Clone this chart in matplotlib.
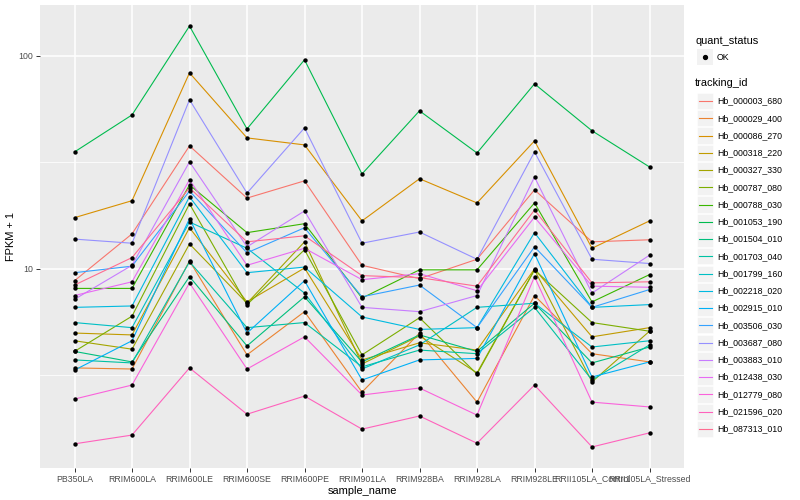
import numpy as np
import matplotlib
matplotlib.use("Agg")
import matplotlib.pyplot as plt
from matplotlib.patches import Rectangle
from matplotlib.ticker import FixedLocator, NullFormatter

plt.rcParams["font.family"] = ["Liberation Sans", "DejaVu Sans"]

# samples along the x axis
samples = ["PB350LA", "RRIM600LA", "RRIM600LE", "RRIM600SE", "RRIM600PE",
           "RRIM901LA", "RRIM928BA", "RRIM928LA", "RRIM928LE",
           "RRII105LA_Control", "RRII105LA_Stressed"]

tracking_ids = ["Hb_000003_680", "Hb_000029_400", "Hb_000086_270", "Hb_000318_220",
                "Hb_000327_330", "Hb_000787_080", "Hb_000788_030", "Hb_001053_190",
                "Hb_001504_010", "Hb_001703_040", "Hb_001799_160", "Hb_002218_020",
                "Hb_002915_010", "Hb_003506_030", "Hb_003687_080", "Hb_003883_010",
                "Hb_012438_030", "Hb_012779_080", "Hb_021596_020", "Hb_087313_010"]

# ggplot default hue palette for 20 levels
colors = ["#F8766D", "#EA8331", "#D89000", "#C09B00", "#A3A500", "#7CAE00", "#39B600",
          "#00BB4E", "#00BF7D", "#00C1A3", "#00BFC4", "#00BAE0", "#00B0F6", "#35A2FF",
          "#9590FF", "#C77CFF", "#E76BF3", "#FA62DB", "#FF62BC", "#FF6C91"]

# FPKM + 1 per sample (same order as samples)
hb_000003_680 = [8.8, 14.6, 37.8, 21.5, 25.9, 10.4, 9.0, 11.1, 23.5, 13.4, 13.7]
hb_000029_400 = [3.43, 3.39, 10.9, 3.95, 6.3, 2.64, 5.0, 2.37, 7.5, 4.0, 3.66]
hb_000086_270 = [17.4, 20.9, 83.2, 41.2, 38.2, 16.8, 26.5, 20.4, 39.9, 12.5, 16.8]
hb_000318_220 = [5.0, 4.9, 15.6, 7.0, 10.1, 3.74, 4.5, 4.16, 10.0, 4.8, 5.3]
hb_000327_330 = [4.6, 4.2, 13.1, 6.9, 13.4, 3.58, 4.85, 3.25, 9.9, 2.95, 5.1]
hb_000787_080 = [4.1, 6.0, 20.2, 6.8, 12.3, 3.95, 5.9, 3.21, 9.9, 5.6, 5.1]
hb_000788_030 = [8.1, 8.1, 24.8, 14.8, 16.3, 7.3, 9.9, 9.9, 20.4, 7.0, 9.4]
hb_001053_190 = [35.4, 52.8, 138.0, 45.4, 95.8, 27.9, 55.2, 35.0, 73.9, 44.5, 30.1]
hb_001504_010 = [4.1, 3.66, 9.2, 4.35, 7.4, 3.66, 4.9, 4.1, 6.9, 3.62, 4.3]
hb_001703_040 = [3.74, 3.62, 10.8, 5.3, 5.6, 3.47, 4.16, 4.0, 6.6, 3.01, 4.4]
hb_001799_160 = [5.6, 5.3, 16.6, 12.5, 7.7, 3.39, 4.4, 6.6, 6.9, 4.3, 4.6]
hb_002218_020 = [6.6, 6.7, 21.8, 9.6, 10.2, 5.95, 5.2, 5.3, 14.8, 6.6, 6.8]
hb_002915_010 = [3.35, 4.6, 17.2, 5.0, 8.8, 3.01, 3.74, 3.8, 11.8, 3.11, 3.66]
hb_003506_030 = [9.6, 10.3, 23.2, 11.9, 15.6, 7.4, 8.4, 5.3, 12.7, 6.6, 8.0]
hb_003687_080 = [13.8, 13.2, 62.2, 22.7, 45.9, 13.2, 14.9, 11.1, 35.4, 11.1, 10.6]
hb_003883_010 = [7.2, 10.4, 31.8, 12.7, 18.7, 6.6, 6.3, 7.5, 27.0, 7.7, 11.6]
hb_012438_030 = [7.5, 8.7, 26.2, 10.4, 12.5, 8.9, 9.5, 7.9, 17.5, 8.3, 8.2]
hb_012779_080 = [2.45, 2.85, 8.6, 3.39, 4.8, 2.56, 2.76, 2.06, 9.2, 2.37, 2.25]
hb_021596_020 = [1.51, 1.66, 3.43, 2.08, 2.53, 1.77, 2.04, 1.52, 2.85, 1.46, 1.70]
hb_087313_010 = [8.4, 11.3, 24.0, 13.4, 14.3, 9.3, 9.1, 8.3, 18.9, 8.6, 8.7]

series = [hb_000003_680, hb_000029_400, hb_000086_270, hb_000318_220, hb_000327_330,
          hb_000787_080, hb_000788_030, hb_001053_190, hb_001504_010, hb_001703_040,
          hb_001799_160, hb_002218_020, hb_002915_010, hb_003506_030, hb_003687_080,
          hb_003883_010, hb_012438_030, hb_012779_080, hb_021596_020, hb_087313_010]

W, H = 800, 500
fig = plt.figure(figsize=(8, 5), dpi=100)
ax = fig.add_axes([40 / W, 32 / H, 644 / W, 463 / H])
ax.set_facecolor("#EBEBEB")
for s in ax.spines.values():
    s.set_visible(False)

x = np.arange(len(samples))
for vals, col in zip(series, colors):
    ax.plot(x, vals, color=col, lw=0.8, zorder=2)
for vals in series:
    ax.scatter(x, vals, s=10, color="black", zorder=3, linewidths=0)

# log scale with ggplot style 5% expansion
ax.set_yscale("log")
allv = np.concatenate([np.array(v) for v in series])
lo, hi = np.log10(allv.min()), np.log10(allv.max())
pad = 0.05 * (hi - lo)
ax.set_ylim(10 ** (lo - pad), 10 ** (hi + pad))
ax.set_xlim(-0.6, len(samples) - 0.4)

ax.yaxis.set_major_locator(FixedLocator([10, 100]))
ax.set_yticklabels(["10", "100"])
ax.yaxis.set_minor_locator(FixedLocator([10 ** 0.5, 10 ** 1.5]))
ax.yaxis.set_minor_formatter(NullFormatter())
ax.set_xticks(x)
ax.set_xticklabels(samples)

ax.set_axisbelow(True)
ax.grid(which="major", color="white", lw=1.1)
ax.grid(which="minor", axis="y", color="white", lw=0.55)
ax.tick_params(which="major", length=2.7, width=0.7, color="#333333",
               labelsize=6.3, labelcolor="#4D4D4D", pad=2)
ax.tick_params(which="minor", length=0)

ax.set_xlabel("sample_name", fontsize=7.9, labelpad=2)
ax.set_ylabel("FPKM + 1", fontsize=7.9, labelpad=2)

# legend drawn in pixel coordinates on the right
lax = fig.add_axes([685 / W, 0, 115 / W, 1])
lax.set_xlim(685, 800)
lax.set_ylim(H, 0)
lax.axis("off")

lax.text(695, 41, "quant_status", fontsize=7.9, va="center")
lax.add_patch(Rectangle((697, 49), 16, 16, fc="#F2F2F2", ec="none"))
lax.plot([705], [57], "o", color="black", ms=2.8)
lax.text(717, 57, "OK", fontsize=6.3, va="center")

lax.text(695, 83, "tracking_id", fontsize=7.9, va="center")
for i, (tid, col) in enumerate(zip(tracking_ids, colors)):
    yc = 101 + 17.26 * i
    lax.add_patch(Rectangle((697, yc - 8.1), 16, 16.2, fc="#F2F2F2", ec="white", lw=0.4))
    lax.plot([698.5, 711.5], [yc, yc], color=col, lw=0.8)
    lax.text(717, yc, tid, fontsize=6.3, va="center")

fig.savefig("out.png", dpi=100)
